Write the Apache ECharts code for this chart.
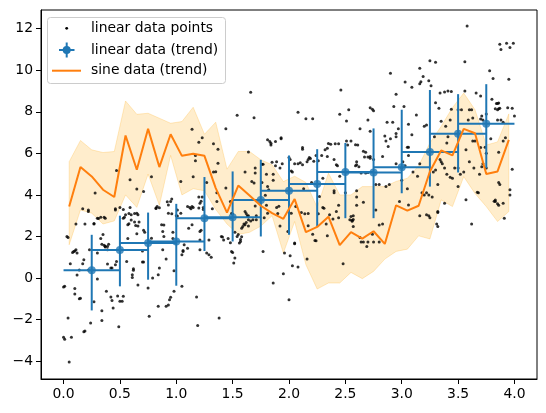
<!DOCTYPE html>
<html>
<head>
<meta charset="utf-8">
<script src="https://cdn.jsdelivr.net/npm/echarts@6/dist/echarts.min.js"></script>
<style>
  html, body { margin: 0; padding: 0; background: #fff; }
  #chart { width: 546px; height: 413px; }
</style>
</head>
<body>
<div id="chart"></div>
<script>
// raw scatter: linear data points [x, y]
var linearPoints = [
  [0.0,-0.43],[0.01,-0.4],[0.04,-1.92],[0.0,-2.85],[0.01,-2.95],[0.07,-2.85],[0.05,-4.04],
  [0.03,2.0],[0.04,1.95],[0.06,0.69],[0.08,1.23],[0.1,1.3],[0.11,1.36],[0.1,-0.51],[0.1,-0.77],
  [0.12,0.14],[0.14,-1.0],[0.15,-0.97],[0.14,0.39],[0.17,0.69],[0.18,-2.58],[0.19,-2.55],[0.18,0.88],
  [0.22,0.39],[0.22,3.28],[0.19,2.6],[0.24,-2.16],[0.27,2.62],[0.23,1.36],[0.27,-1.14],[0.3,-0.05],
  [0.31,2.87],[0.33,2.93],[0.33,1.9],[0.35,2.1],[0.34,-1.57],[0.34,-2.04],[0.36,2.93],[0.36,1.58],
  [0.37,1.53],[0.39,1.52],[0.39,1.36],[0.38,-0.64],[0.39,0.67],[0.42,-0.91],[0.43,-1.08],[0.44,-1.44],
  [0.42,0.48],[0.43,0.48],[0.46,0.64],[0.47,0.8],[0.46,3.28],[0.49,-2.34],[0.48,-0.86],[0.5,-1.12],
  [0.52,-1.12],[0.53,-0.88],[0.53,2.88],[0.54,2.93],[0.53,3.3],[0.56,0.8],[0.57,2.56],[0.58,2.61],
  [0.58,3.1],[0.6,2.79],[0.61,0.16],[0.61,0.03],[0.62,0.45],[0.62,0.37],[0.63,3.1],[0.65,3.12],
  [0.64,2.53],[0.66,-0.34],[0.65,2.13],[0.11,2.6],[0.17,3.33],[0.22,3.2],[0.3,2.88],[0.37,2.88],
  [0.27,2.6],[0.59,3.4],[0.55,3.04],[0.6,3.04],[0.66,3.04],[0.63,2.7],[0.67,2.7],[0.66,2.5],
  [0.3,1.2],[0.34,1.63],[0.4,1.63],[0.37,1.49],[0.09,1.28],[0.12,1.2],[0.57,1.9],[0.46,3.33],[0.5,3.4],
  [0.7,0.77],[0.71,0.77],[0.7,1.3],[0.71,2.3],[0.72,2.2],[0.75,-0.48],[0.76,-1.84],[0.78,1.92],
  [0.79,0.0],[0.83,3.44],[0.82,3.35],[0.84,-1.36],[0.84,0.16],[0.85,0.48],[0.88,1.36],[0.88,2.24],
  [0.87,2.56],[0.89,2.55],[0.89,2.0],[0.91,0.91],[0.91,-1.36],[0.93,-1.3],[0.94,-1.04],[0.95,-0.93],
  [0.96,3.09],[0.95,3.68],[0.97,1.9],[0.97,2.2],[0.98,-0.64],[0.98,0.35],[1.01,3.28],[1.04,3.12],
  [1.05,1.12],[1.06,1.28],[1.06,1.33],[1.05,-0.4],[1.07,1.6],[1.1,3.44],[1.12,3.4],[1.11,2.4],
  [1.14,2.56],[1.14,3.44],[1.1,1.43],[1.18,-0.91],[1.19,-2.28],[1.21,1.83],[1.21,1.36],[1.21,2.24],
  [1.22,2.3],[1.24,3.4],[1.24,3.3],[1.27,1.2],[1.29,1.12],[1.31,1.0],[1.29,1.83],[1.38,-1.92],
  [1.42,1.83],[1.46,1.9],[1.48,1.7],[1.49,1.28],[1.5,1.23],[1.52,0.96],[1.51,0.72],[1.49,3.1],
  [1.5,3.08],[1.52,2.2],[1.56,1.68],[1.57,1.76],[1.57,1.86],[1.58,1.99],[1.59,2.48],[1.61,2.56],
  [1.62,2.67],[1.64,2.8],[1.62,3.1],[1.64,3.0],[1.68,2.8],[1.71,2.8],[1.7,3.47],[1.71,3.0],
  [1.8,3.5],[1.81,3.12],[1.86,-0.24],[1.78,2.9],[0.93,3.52],[0.93,3.12],[1.0,3.0],[1.01,2.98],
  [1.15,3.4],[1.2,3.37],[1.2,3.9],[1.22,3.7],[1.21,3.6],[1.32,3.33],[1.4,2.0],[1.41,1.98],
  [1.61,3.2],[1.63,3.0],[1.66,2.75],[1.6,2.6],[1.58,2.4],[1.64,2.5],[1.55,2.1],[1.54,2.0],
  [1.77,1.28],[1.96,1.2],
  [1.66,8.94],[1.54,7.84],[1.69,7.71],[1.44,7.18],[1.14,7.16],[1.2,6.54],[1.23,6.75],[1.33,6.46],
  [1.37,6.2],[1.17,5.9],[1.17,5.65],[1.37,5.53],[1.15,4.88],[1.27,4.6],[1.36,4.1],[1.36,3.68],
  [1.23,3.9],[1.44,4.33],[1.48,3.68],[1.61,5.1],[1.64,6.06],[1.7,5.05],[1.77,5.48],[1.8,5.0],
  [1.81,6.65],[1.83,6.57],[1.84,6.49],[1.85,5.57],[1.89,5.6],[1.86,5.0],[1.81,4.4],[1.82,4.25],
  [1.79,3.98],[1.86,4.7],[1.04,4.64],[0.96,3.8],[0.92,3.67],[0.85,3.38],[0.78,4.88],[0.71,4.16],
  [0.65,4.28],[0.59,4.73],[0.47,5.17],[0.28,4.09],[1.13,3.33],[0.82,3.37],[1.33,5.1],[1.35,5.12],
  [1.67,4.64],[1.69,4.57],[1.76,4.6],[1.93,6.7],[1.88,5.4],[1.92,5.3],[1.7,5.3],[1.76,5.48],
  [1.89,3.4],[1.9,3.1],[1.91,3.45],[1.92,2.5],[1.95,0.21],[2.0,-1.04],[1.99,2.24],[2.01,1.07],
  [2.02,3.12],[2.03,0.59],[2.05,1.65],[2.08,0.53],[2.11,3.15],[2.14,3.09],[2.17,3.1],[2.16,0.91],
  [2.17,2.51],[2.21,2.11],[2.23,1.81],[2.26,3.09],[2.31,3.36],[2.34,2.03],[2.36,3.05],[2.39,2.84],
  [2.42,3.2],[2.44,3.5],[2.48,0.69],[2.54,2.8],[2.56,2.78],[2.57,2.82],[2.57,2.48],[2.57,3.0],
  [2.63,1.95],[2.64,1.73],[2.66,1.73],[2.66,3.65],[2.69,1.52],[2.7,1.73],[2.74,2.11],[2.75,1.73],
  [2.77,3.28],[2.8,1.73],[2.83,2.6],[2.98,3.68],[2.06,3.44],[2.27,3.92],[2.3,3.4],[2.33,2.6],
  [2.24,1.8],[2.44,2.9],[2.55,2.96],[2.56,2.73],[2.6,3.5],[2.8,2.55],[2.05,1.68],
  [2.46,9.05],[2.95,8.85],[2.9,9.86],[2.08,7.98],[2.45,7.88],[2.53,8.1],[2.72,8.2],[2.75,8.05],
  [2.7,7.6],[2.15,7.66],[2.21,7.66],[2.51,7.56],[2.87,7.5],[2.92,7.5],[2.97,7.18],[2.63,7.18],
  [2.85,6.84],[2.86,6.6],[2.88,6.33],[2.95,6.95],[2.95,6.8],[1.88,6.57],[1.84,6.4],[1.93,6.75],
  [2.12,6.28],[2.35,6.48],[2.37,6.44],[2.41,6.46],[2.44,6.46],[2.51,6.6],[2.52,6.4],[2.61,6.4],
  [2.59,6.42],[2.67,5.82],[2.18,5.8],[2.17,5.7],[2.16,5.6],[2.22,5.62],[2.26,5.65],[2.24,5.9],
  [2.29,5.9],[2.34,5.85],[2.42,5.45],[2.43,5.4],[2.05,5.5],[2.08,5.5],[2.1,5.55],[2.12,5.45],
  [2.0,5.8],[2.01,5.7],[1.94,5.5],[2.02,5.15],[2.03,5.1],[2.59,5.4],[2.6,5.45],[2.62,5.35],
  [2.64,5.05],[2.7,5.82],[2.72,5.85],[2.83,5.85],[2.95,5.5],[3.0,5.3],[2.12,6.2],[2.32,6.17],
  [2.34,6.25],[2.55,6.6],[2.19,5.75],[2.4,5.7],[2.66,6.1],[2.68,6.05],[2.72,5.77],[2.75,5.7],
  [2.6,5.6],[2.68,5.05],[2.7,5.08],[2.77,4.5],[2.8,4.5],[2.86,4.4],[2.89,4.5],[2.6,4.2],
  [2.6,3.9],[2.5,4.1],[2.4,4.2],[2.4,4.1],[2.2,4.6],[2.13,4.3],[2.3,4.8],[2.9,6.7],[2.45,4.9],
  [2.74,8.12],[3.06,7.4],[2.72,7.07],
  [3.58,12.13],[3.87,11.25],[3.88,11.0],[3.93,11.3],[3.96,11.1],[3.99,11.3],[3.25,10.46],[3.3,10.38],
  [3.56,10.41],[3.16,10.1],[3.19,9.7],[3.17,9.45],[3.16,9.35],[3.78,9.98],[3.81,9.6],[3.95,9.57],
  [3.03,9.44],[3.09,9.18],[3.24,9.5],[3.26,9.25],[3.34,8.9],[3.38,8.95],[3.41,9.0],[3.44,8.98],
  [3.56,9.0],[3.66,8.9],[3.7,8.76],[3.3,8.44],[3.33,8.17],[2.93,8.25],[3.02,8.25],[3.5,8.1],
  [3.53,8.1],[3.6,8.1],[3.62,8.1],[3.83,8.15],[3.85,8.1],[3.86,8.15],[3.87,8.17],[3.85,8.4],
  [3.86,8.42],[3.94,8.2],[3.98,8.17],[4.0,7.8],[3.13,7.85],[3.2,7.3],[3.35,7.55],[3.63,7.7],
  [3.72,7.6],[3.7,7.65],[3.85,7.6],[3.88,7.6],[3.92,6.75],[3.43,7.6],[3.09,6.9],[3.05,6.3],
  [3.06,6.3],[3.29,6.8],[3.4,6.5],[3.41,6.8],[3.57,6.17],[3.63,6.6],[3.65,6.6],[3.79,6.7],
  [3.9,6.6],[3.7,6.28],[3.74,6.3],[3.75,6.0],[3.72,5.5],[3.75,5.3],[3.71,5.35],[3.86,6.05],
  [3.98,5.24],[3.34,5.7],[3.36,5.5],[3.35,5.6],[3.3,5.2],[3.38,5.3],[3.4,5.0],[3.43,4.85],
  [3.45,4.8],[3.47,5.3],[3.5,5.3],[3.52,5.0],[3.06,5.9],[3.03,5.4],[3.01,5.6],[3.1,5.1],
  [3.14,4.9],[3.28,5.1],[3.32,4.5],[3.55,5.1],[3.6,5.6],[3.64,5.3],[3.69,5.0],[3.67,4.13],
  [3.86,4.6],[3.87,4.5],[3.96,4.25],[3.57,3.77],[3.5,4.4],[3.38,3.6],[3.82,3.7],[3.86,3.5],
  [3.27,3.9],[3.68,4.1],[3.83,3.75],[3.9,3.6],[3.96,4.0],[3.91,2.88],[3.62,2.6],[3.32,3.2],
  [3.31,2.6],[3.24,3.0],[3.25,2.9],[3.2,4.0],[3.22,4.1],[3.24,4.0],[3.18,4.1],[3.16,3.0],
  [3.16,5.5],[3.06,3.52],[3.22,3.05],[3.32,2.48],[3.32,3.15],[3.83,3.68],[3.85,3.58],[3.0,4.7],
  [3.05,4.3],[3.44,8.12],[3.59,7.6],[3.39,7.3],[3.75,7.9],[3.8,8.6],[3.84,8.4],[3.9,7.5],
  [3.71,7.8],[3.22,7.37]
];

// binned trend of the linear data
var trendX = [0.25, 0.5, 0.75, 1.0, 1.25, 1.5, 1.75, 2.0, 2.25, 2.5, 2.75, 3.0, 3.25, 3.5, 3.75];
var trendXErr = 0.25;
var trendMean = [0.38, 1.35, 1.68, 1.76, 2.88, 2.93, 3.76, 4.2, 4.52, 5.1, 5.08, 5.33, 6.06, 6.94, 7.42];
var trendLow = [-1.56, -0.4, -0.08, -0.37, 1.3, 1.76, 2.0, 2.08, 2.48, 2.88, 2.88, 4.08, 4.4, 5.08, 5.29];
var trendHigh = [2.08, 3.0, 3.15, 3.57, 4.86, 5.13, 5.69, 5.9, 6.2, 6.5, 7.2, 8.1, 9.05, 8.85, 9.33];

// sine data trend and its band
var sineX = [0.05, 0.15, 0.25, 0.35, 0.45, 0.55, 0.65, 0.75, 0.85, 0.95,
             1.05, 1.15, 1.25, 1.35, 1.45, 1.55, 1.65, 1.75, 1.85, 1.95,
             2.05, 2.15, 2.25, 2.35, 2.45, 2.55, 2.65, 2.75, 2.85, 2.95,
             3.05, 3.15, 3.25, 3.35, 3.45, 3.55, 3.65, 3.75, 3.85, 3.95];
var sineY = [3.44, 5.34, 4.89, 4.25, 3.9, 6.86, 5.21, 7.18, 5.34, 6.92,
             5.88, 5.98, 5.88, 4.33, 3.15, 4.45, 3.97, 3.48, 3.12, 2.85,
             3.8, 2.21, 2.46, 2.95, 1.58, 2.21, 1.9, 2.25, 1.64, 3.5,
             3.24, 3.48, 5.13, 6.14, 5.9, 7.18, 6.97, 5.01, 5.13, 6.65];
var sineUpper = [5.6, 6.62, 6.17, 6.04, 6.09, 8.52, 7.88, 7.93, 7.69, 7.45,
                 7.53, 8.22, 6.92, 7.5, 5.24, 6.09, 6.09, 5.69, 5.45, 4.64,
                 4.9, 4.6, 3.4, 5.05, 4.0, 4.0, 4.4, 4.4, 4.4, 4.65,
                 4.8, 5.4, 6.5, 7.3, 8.2, 8.9, 8.1, 6.4, 6.55, 7.9];
var sineLower = [1.6, 3.28, 3.12, 2.6, 2.75, 4.0, 3.4, 5.0, 3.5, 5.9,
                 4.0, 4.3, 4.2, 3.3, 2.6, 2.1, 2.2, 2.5, 3.0, 1.2,
                 2.72, 0.64, -0.53, -0.24, -0.24, 0.27, -0.03, 0.32, 0.91, 1.28,
                 1.39, 2.03, 1.88, 3.76, 3.44, 4.88, 4.07, 3.44, 2.72, 3.2];

// ticks
var xTicks = [0, 0.5, 1, 1.5, 2, 2.5, 3, 3.5, 4];
var yTicks = [-4, -2, 0, 2, 4, 6, 8, 10, 12];

var FONT = '"DejaVu Sans", sans-serif';
var BLUE = '#1f77b4';
var ORANGE = '#ff7f0e';

var chart = echarts.init(document.getElementById('chart'), null, { renderer: 'canvas' });

var trendData = trendX.map(function (x, i) {
  return [x, trendMean[i], trendLow[i], trendHigh[i]];
});
var sineData = sineX.map(function (x, i) { return [x, sineY[i]]; });

function axisCommon() {
  return {
    type: 'value',
    scale: true,
    splitLine: { show: false },
    axisLine: { show: true, onZero: false, lineStyle: { color: '#000', width: 1 } },
    axisTick: { show: true, inside: false, length: 5, lineStyle: { color: '#000', width: 1 } },
    axisLabel: { color: '#000', fontSize: 13.9, fontFamily: FONT, margin: 8 }
  };
}

var xAxis = axisCommon();
xAxis.min = -0.2;
xAxis.max = 4.2;
xAxis.axisTick.customValues = xTicks;
xAxis.axisLabel.customValues = xTicks;
xAxis.axisLabel.formatter = function (v) { return v.toFixed(1); };

var yAxis = axisCommon();
yAxis.min = -4.86;
yAxis.max = 12.9;
yAxis.axisTick.customValues = yTicks;
yAxis.axisLabel.customValues = yTicks;
yAxis.axisLabel.formatter = function (v) {
  return v < 0 ? '\u2212' + Math.abs(v) : String(v);
};

// legend drawn by hand to look like the matplotlib box
var legendRows = [28.3, 50, 70.7];
var legend = [
  { type: 'rect', shape: { x: 47.5, y: 17.5, width: 178, height: 66, r: 3 },
    style: { fill: 'rgba(255,255,255,0.8)', stroke: '#cccccc', lineWidth: 1 }, z: 100 },
  { type: 'circle', shape: { cx: 66.7, cy: legendRows[0], r: 1.4 }, style: { fill: '#000' }, z: 101 },
  { type: 'line', shape: { x1: 59, y1: legendRows[1], x2: 74.5, y2: legendRows[1] },
    style: { stroke: BLUE, lineWidth: 2 }, z: 101 },
  { type: 'line', shape: { x1: 66.7, y1: legendRows[1] - 7.5, x2: 66.7, y2: legendRows[1] + 7.5 },
    style: { stroke: BLUE, lineWidth: 2 }, z: 101 },
  { type: 'circle', shape: { cx: 66.7, cy: legendRows[1], r: 4 }, style: { fill: BLUE }, z: 101 },
  { type: 'line', shape: { x1: 52, y1: legendRows[2], x2: 81, y2: legendRows[2] },
    style: { stroke: ORANGE, lineWidth: 2 }, z: 101 }
];
['linear data points', 'linear data (trend)', 'sine data (trend)'].forEach(function (t, i) {
  legend.push({
    type: 'text', x: 91, y: legendRows[i], z: 101,
    style: { text: t, fill: '#000', font: '13.9px ' + FONT, verticalAlign: 'middle', align: 'left' }
  });
});

chart.setOption({
  animation: false,
  backgroundColor: '#fff',
  grid: {
    left: 41, right: 9, top: 10, bottom: 34,
    show: true, borderColor: '#000', borderWidth: 1, backgroundColor: 'transparent'
  },
  xAxis: xAxis,
  yAxis: yAxis,
  graphic: legend,
  series: [
    {
      // sine band
      type: 'custom',
      silent: true,
      z: 1,
      data: [[sineX[0], sineY[0]]],
      renderItem: function (params, api) {
        var pts = [];
        for (var i = 0; i < sineX.length; i++) pts.push(api.coord([sineX[i], sineUpper[i]]));
        for (var j = sineX.length - 1; j >= 0; j--) pts.push(api.coord([sineX[j], sineLower[j]]));
        return {
          type: 'polygon',
          shape: { points: pts },
          style: { fill: 'rgba(255,165,0,0.2)', stroke: 'rgba(255,165,0,0.22)', lineWidth: 1 }
        };
      }
    },
    {
      name: 'linear data points',
      type: 'scatter',
      z: 2,
      symbol: 'circle',
      symbolSize: 3,
      itemStyle: { color: '#000' },
      data: linearPoints,
      silent: true
    },
    {
      name: 'linear data (trend)',
      type: 'custom',
      z: 3,
      data: trendData,
      renderItem: function (params, api) {
        var x = api.value(0), m = api.value(1), lo = api.value(2), hi = api.value(3);
        var l = api.coord([x - trendXErr, m]);
        var r = api.coord([x + trendXErr, m]);
        var t = api.coord([x, hi]);
        var b = api.coord([x, lo]);
        return {
          type: 'group',
          children: [
            { type: 'line', shape: { x1: l[0], y1: l[1], x2: r[0], y2: r[1] }, style: { stroke: BLUE, lineWidth: 2 } },
            { type: 'line', shape: { x1: t[0], y1: t[1], x2: b[0], y2: b[1] }, style: { stroke: BLUE, lineWidth: 2 } }
          ]
        };
      }
    },
    {
      type: 'scatter',
      z: 4,
      symbol: 'circle',
      symbolSize: 8,
      itemStyle: { color: BLUE },
      data: trendData.map(function (d) { return [d[0], d[1]]; }),
      silent: true
    },
    {
      name: 'sine data (trend)',
      type: 'line',
      z: 5,
      showSymbol: false,
      data: sineData,
      lineStyle: { color: ORANGE, width: 2 },
      silent: true
    }
  ]
});
</script>
</body>
</html>
